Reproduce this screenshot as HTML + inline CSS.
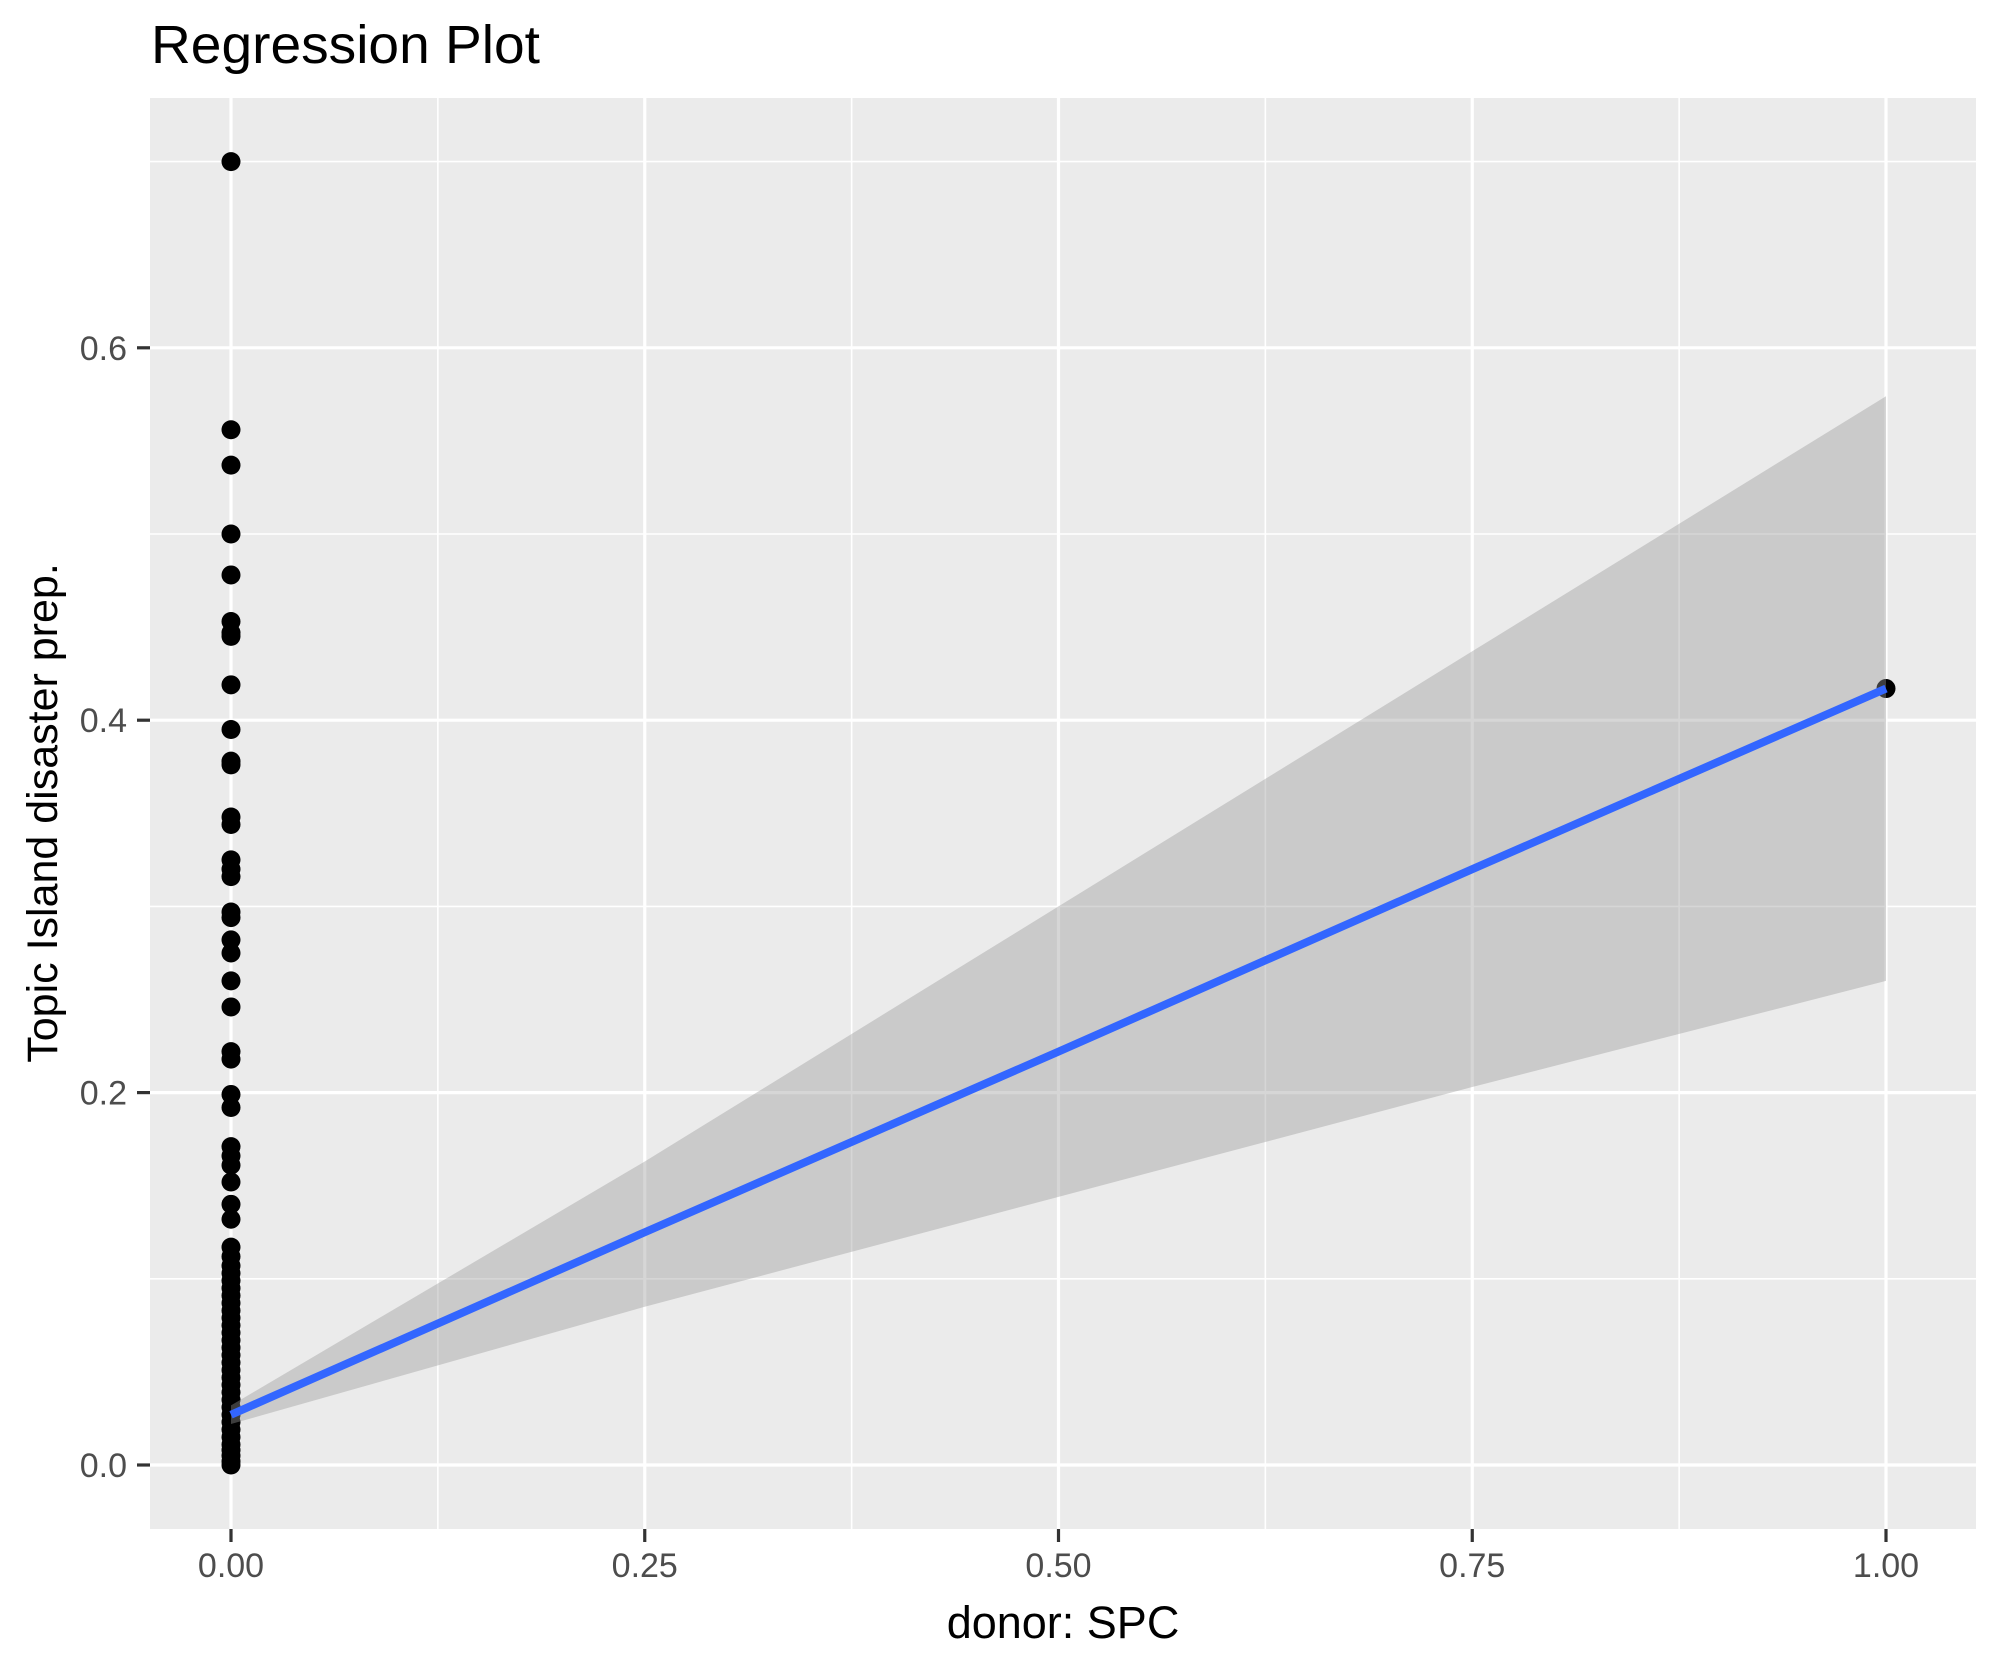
<!DOCTYPE html>
<html><head><meta charset="utf-8"><style>
html,body{margin:0;padding:0;background:#fff;}
svg{display:block;font-family:"Liberation Sans",Arial,sans-serif;}
</style></head><body>
<svg id="chart" width="1990" height="1665" viewBox="0 0 1990 1665" xmlns="http://www.w3.org/2000/svg">
<rect width="1990" height="1665" fill="#fff"/>
<text x="151" y="63" font-size="54" textLength="389" lengthAdjust="spacingAndGlyphs" fill="#000">Regression Plot</text>
<rect x="150" y="98" width="1826" height="1431" fill="#EBEBEB"/>
<g id="grid"></g>
<g id="points"></g>
<g id="fit"></g>
<g id="axes"></g>
<text x="1063" y="1638" font-size="45" text-anchor="middle" fill="#000">donor: SPC</text>
<text transform="translate(57,813) rotate(-90)" font-size="43" text-anchor="middle" fill="#000">Topic Island disaster prep.</text>
</svg>
<script>
const xTicks = [0, 0.25, 0.5, 0.75, 1];
const xTickLabels = ["0.00", "0.25", "0.50", "0.75", "1.00"];
const xMinor = [0.125, 0.375, 0.625, 0.875];
const yTicks = [0, 0.2, 0.4, 0.6];
const yTickLabels = ["0.0", "0.2", "0.4", "0.6"];
const yMinor = [0.1, 0.3, 0.5, 0.7];
const pointX0Values = [0.700,0.556,0.537,0.500,0.478,0.453,0.447,0.445,0.419,0.395,0.378,0.376,0.348,0.344,0.325,0.320,0.316,0.297,0.294,0.282,0.275,0.260,0.246,0.222,0.218,0.199,0.192,0.171,0.166,0.161,0.152,0.140,0.132,0.117,0.112,0.107,0.103,0.099,0.095,0.091,0.087,0.083,0.079,0.075,0.071,0.067,0.063,0.059,0.055,0.051,0.047,0.043,0.039,0.035,0.031,0.027,0.023,0.019,0.015,0.011,0.008,0.005,0.002,0.000];
const pointX1Values = [0.417];
const fitX = [0, 0.25, 0.5, 0.75, 1];
const fitY = [0.027, 0.125, 0.222, 0.320, 0.417];
const fitUpper = [0.032, 0.163, 0.300, 0.437, 0.574];
const fitLower = [0.022, 0.085, 0.144, 0.203, 0.260];

const NS = "http://www.w3.org/2000/svg";
const X = v => 231 + 1655 * v;
const Y = v => 1465 - 1862 * v;
function mk(tag, attrs, parent) {
  const e = document.createElementNS(NS, tag);
  for (const k in attrs) e.setAttribute(k, attrs[k]);
  parent.appendChild(e);
  return e;
}
const grid = document.getElementById('grid');
const pts = document.getElementById('points');
const fit = document.getElementById('fit');
const axes = document.getElementById('axes');

yMinor.forEach(v => {
  const l = mk('line', {x1:150, x2:1976, y1:Y(v), y2:Y(v), stroke:'#fff', 'stroke-width':1.6}, grid);
  
  
});
xMinor.forEach(v => {
  const l = mk('line', {x1:X(v), x2:X(v), y1:98, y2:1529, stroke:'#fff', 'stroke-width':1.6}, grid);
  
  
});
yTicks.forEach((v, i) => {
  const l = mk('line', {x1:150, x2:1976, y1:Y(v), y2:Y(v), stroke:'#fff', 'stroke-width':3.2}, grid);
  
  
  const t = mk('line', {x1:137, x2:150, y1:Y(v), y2:Y(v), stroke:'#333', 'stroke-width':3.2}, axes);
  
  
  const tx = mk('text', {x:127, y:Y(v) + 12, 'font-size':34, 'text-anchor':'end', fill:'#4D4D4D'}, axes);
  tx.textContent = yTickLabels[i];
  
  
});
xTicks.forEach((v, i) => {
  const l = mk('line', {x1:X(v), x2:X(v), y1:98, y2:1529, stroke:'#fff', 'stroke-width':3.2}, grid);
  
  
  const t = mk('line', {x1:X(v), x2:X(v), y1:1529, y2:1542, stroke:'#333', 'stroke-width':3.2}, axes);
  
  
  const tx = mk('text', {x:X(v), y:1577, 'font-size':34, 'text-anchor':'middle', fill:'#4D4D4D'}, axes);
  tx.textContent = xTickLabels[i];
  
  
});
pointX0Values.forEach(v => {
  const c = mk('circle', {cx:X(0), cy:Y(v), r:9.5, fill:'#000'}, pts);
  
  
});
pointX1Values.forEach(v => {
  const c = mk('circle', {cx:X(1), cy:Y(v), r:9.5, fill:'#000'}, pts);
  
  
});
let d = '';
fitX.forEach((x, i) => { d += (i ? 'L' : 'M') + X(x) + ',' + Y(fitUpper[i]); });
for (let i = fitX.length - 1; i >= 0; i--) d += 'L' + X(fitX[i]) + ',' + Y(fitLower[i]);
const band = mk('path', {d: d + 'Z', fill:'#999999', 'fill-opacity':0.4}, fit);


const line = mk('polyline', {points: fitX.map((x, i) => X(x) + ',' + Y(fitY[i])).join(' '), fill:'none', stroke:'#3366FF', 'stroke-width':8}, fit);


</script>
</body></html>
